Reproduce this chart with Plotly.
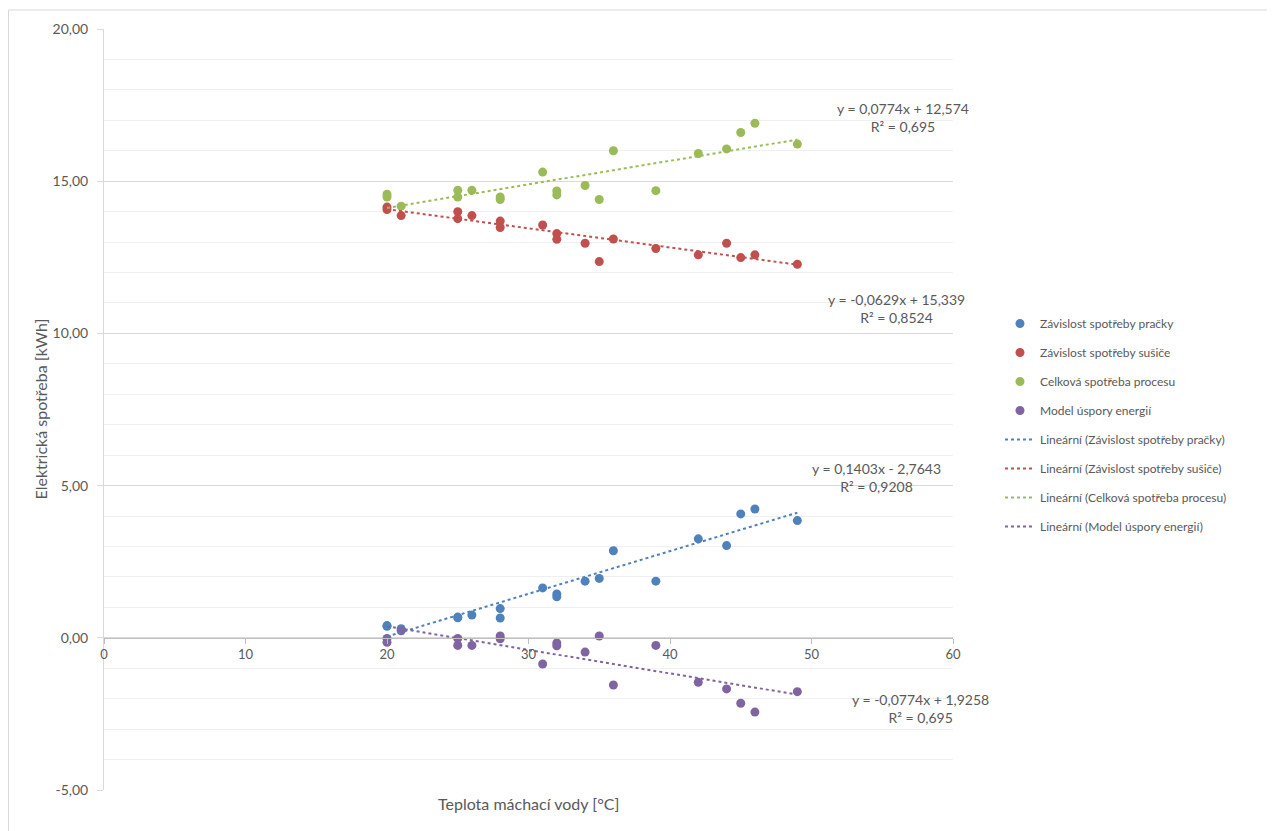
import plotly.graph_objects as go

# ---- data ----
x_temp = [20, 20, 21, 25, 25, 26, 28, 28, 31, 32, 32, 34, 35, 36, 39, 42, 44, 45, 46, 49]
pracka = [0.38, 0.40, 0.30, 0.68, 0.66, 0.75, 0.96, 0.65, 1.64, 1.44, 1.35, 1.86, 1.95, 2.86, 1.86, 3.25, 3.03, 4.07, 4.23, 3.85]
susic = [14.15, 14.07, 13.87, 14.00, 13.77, 13.87, 13.69, 13.48, 13.56, 13.28, 13.09, 12.96, 12.36, 13.10, 12.79, 12.58, 12.96, 12.49, 12.58, 12.27]
celkova = [14.57, 14.48, 14.18, 14.70, 14.48, 14.70, 14.48, 14.40, 15.30, 14.68, 14.55, 14.86, 14.40, 16.00, 14.69, 15.91, 16.06, 16.60, 16.90, 16.22]
uspora = [-0.02, -0.15, 0.23, -0.02, -0.25, -0.25, 0.06, -0.03, -0.86, -0.17, -0.26, -0.47, 0.06, -1.55, -0.25, -1.46, -1.68, -2.15, -2.44, -1.77]

series_names = ["Závislost spotřeby pračky", "Závislost spotřeby sušiče",
                "Celková spotřeba procesu", "Model úspory energií"]
series_values = [pracka, susic, celkova, uspora]
colors = ["#4F81BD", "#C0504D", "#9BBB59", "#8064A2"]

# trendline equations as printed on the chart
slopes = [0.1403, -0.0629, 0.0774, -0.0774]
intercepts = [-2.7643, 15.339, 12.574, 1.9258]
slope_txt = ["0,1403", "-0,0629", "0,0774", "-0,0774"]
icpt_txt = ["- 2,7643", "+ 15,339", "+ 12,574", "+ 1,9258"]
r2_txt = ["0,9208", "0,8524", "0,695", "0,695"]
# label centres (data coordinates)
label_x = [54.6, 56.0, 56.5, 57.7]
label_y = [5.26, 10.82, 17.09, -2.32]

x_ticks = [0, 10, 20, 30, 40, 50, 60]
y_ticks = [-5, 0, 5, 10, 15, 20]
y_tick_labels = ["-5,00", "0,00", "5,00", "10,00", "15,00", "20,00"]

FONT = "Lato, Carlito, Calibri, sans-serif"
GRAY = "#595959"

# page offset of the plotly div (default body margin)
OFF = 8
W, H = 1275 - OFF, 831 - OFF
# plot-area geometry in page pixels
L, R, T, B = 104, 953, 29, 790

def px(p):
    return (p - L) / (R - L)

def py(p):
    return (B - p) / (B - T)

fig = go.Figure()

for i, (name, vals) in enumerate(zip(series_names, series_values)):
    fig.add_trace(go.Scatter(
        x=x_temp, y=vals, mode="markers", name=name,
        marker=dict(color=colors[i], size=9),
        legendgroup=f"g{i}",
    ))

xmin, xmax = min(x_temp), max(x_temp)
for i, name in enumerate(series_names):
    fig.add_trace(go.Scatter(
        x=[xmin, xmax],
        y=[slopes[i] * xmin + intercepts[i], slopes[i] * xmax + intercepts[i]],
        mode="lines", name=f"Lineární ({name})",
        line=dict(color=colors[i], width=2, dash="dot"),
        legendgroup=f"t{i}",
    ))

for i in range(4):
    fig.add_annotation(
        x=label_x[i], y=label_y[i], xref="x", yref="y",
        text=f"y = {slope_txt[i]}x {icpt_txt[i]}<br>R² = {r2_txt[i]}",
        showarrow=False, align="center", xanchor="center", yanchor="middle",
        font=dict(family=FONT, size=14, color=GRAY),
    )

# axis titles
fig.add_annotation(x=0.5, y=py(803), xref="paper", yref="paper",
                   xanchor="center", yanchor="middle",
                   text="Teplota máchací vody [°C]", showarrow=False,
                   font=dict(family=FONT, size=16, color=GRAY))
fig.add_annotation(x=px(40), y=0.5, xref="paper", yref="paper",
                   xanchor="center", yanchor="middle",
                   text="Elektrická spotřeba [kWh]", showarrow=False, textangle=-90,
                   font=dict(family=FONT, size=16, color=GRAY))

# chart border (top and left visible)
fig.add_shape(type="rect", xref="paper", yref="paper",
              x0=px(8.5), x1=px(1290), y0=py(845), y1=py(10),
              line=dict(color="#D9D9D9", width=1), layer="below")

fig.update_layout(
    width=W, height=H,
    margin=dict(l=L - OFF, r=W - (R - OFF), t=T - OFF, b=H - (B - OFF), pad=0),
    paper_bgcolor="white", plot_bgcolor="white",
    font=dict(family=FONT, size=13, color=GRAY),
    showlegend=True,
    legend=dict(x=px(1000), y=py(309), xanchor="left", yanchor="top",
                font=dict(family=FONT, size=12, color=GRAY),
                tracegroupgap=10, bgcolor="rgba(0,0,0,0)"),
    xaxis=dict(range=[0, 60], tickvals=x_ticks, showgrid=False, zeroline=False,
               anchor="free", position=0.2, showline=True, linecolor="#BFBFBF",
               linewidth=1, ticks="outside", ticklen=5, tickcolor="#BFBFBF",
               tickfont=dict(family=FONT, size=13, color=GRAY)),
    yaxis=dict(range=[-5, 20], tickvals=y_ticks, ticktext=y_tick_labels,
               showgrid=True, gridcolor="#D9D9D9", zeroline=False, showline=True,
               linecolor="#D9D9D9", ticks="outside", ticklen=6, tickcolor="#D9D9D9",
               ticklabelstandoff=6,
               minor=dict(dtick=1, showgrid=True, gridcolor="#F0F0F0"),
               tickfont=dict(family=FONT, size=14, color=GRAY)),
)

fig.write_html("out.html")
